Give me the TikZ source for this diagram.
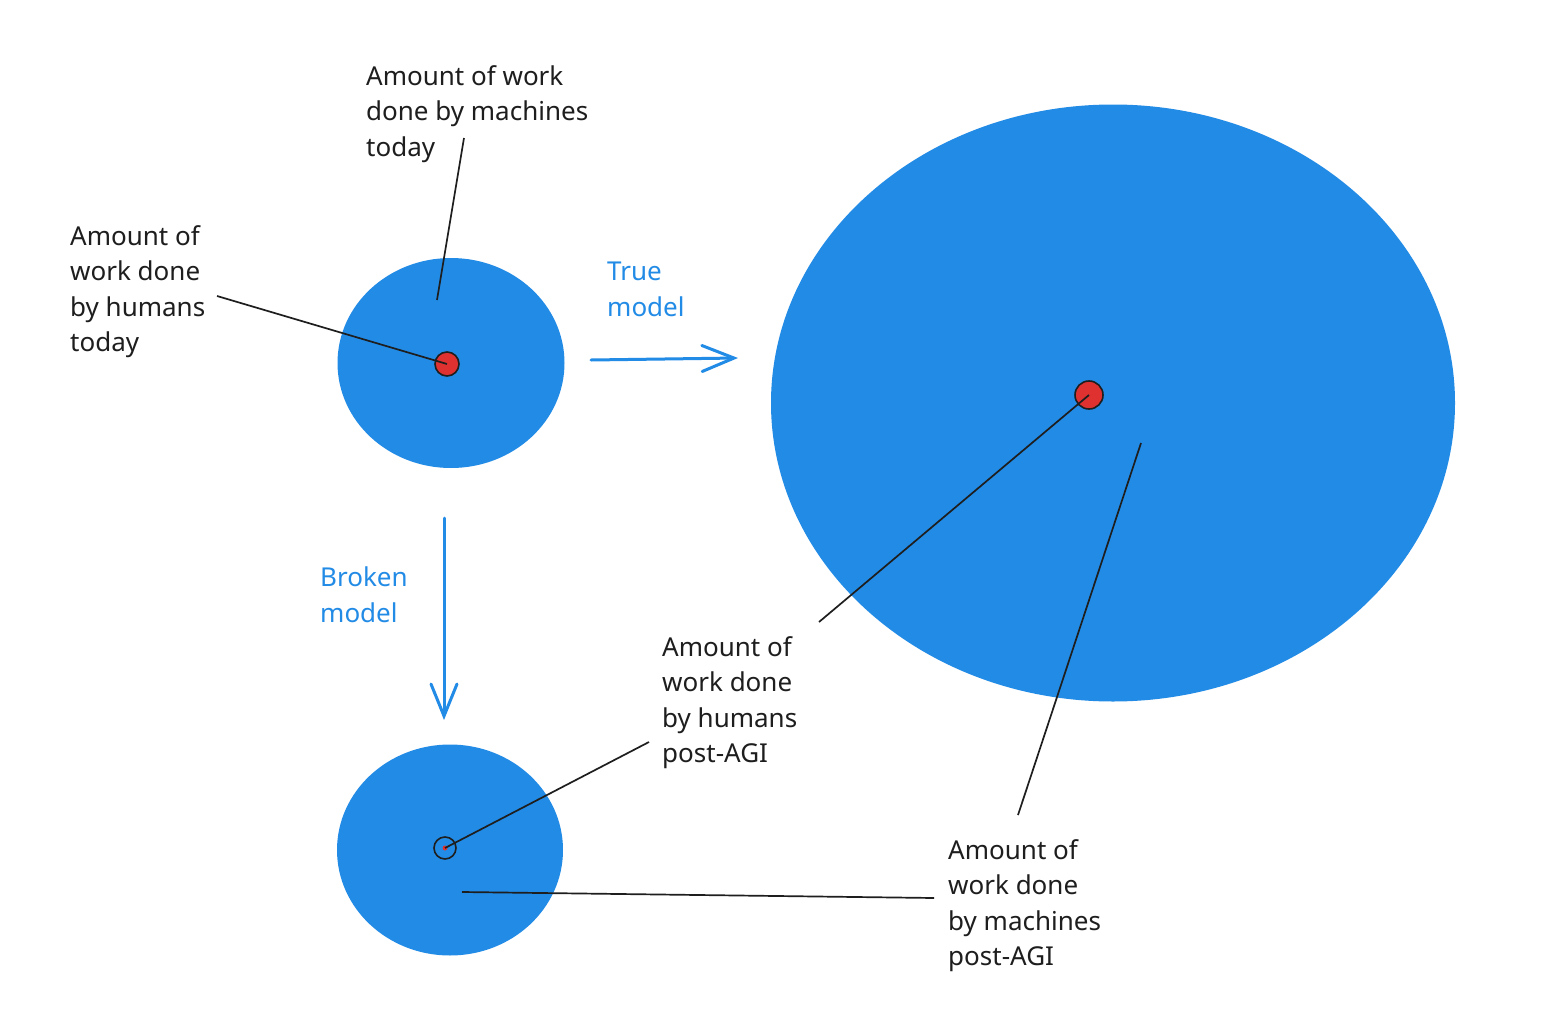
\documentclass[tikz,border=0pt]{standalone}
\usepackage{fontspec}
\setmainfont{Noto Sans}
\usetikzlibrary{arrows.meta,shapes.geometric}
\definecolor{oblue}{HTML}{228BE6}
\definecolor{ored}{HTML}{E03131}
\definecolor{ink}{HTML}{1E1E1E}
\begin{document}
\begin{tikzpicture}[x=1pt,y=-1pt,
  blob/.style={ellipse,fill=oblue,draw=none,inner sep=0pt},
  dot/.style={circle,fill=ored,draw=ink,line width=1.6pt,inner sep=0pt},
  ring/.style={circle,draw=ink,line width=1.6pt,inner sep=0pt},
  lbl/.style={font=\fontsize{26}{35.5}\selectfont,align=left,inner sep=0pt,text=ink,anchor=north west},
  blbl/.style={lbl,text=oblue},
  leader/.style={draw=ink,line width=1.7pt},
  flow/.style={draw=oblue,line width=3pt,line cap=round,-{Straight Barb[length=32pt,width=26pt,line cap=round]}}
]
\useasboundingbox (0,0) rectangle (1564,1036);
\fill[white] (0,0) rectangle (1564,1036);

% circles
\node[blob,minimum width=227pt,minimum height=210pt] (c1) at (451,363) {};
\node[blob,minimum width=684pt,minimum height=597pt] (c2) at (1113,403) {};
\node[blob,minimum width=226pt,minimum height=211pt] (c3) at (450,850) {};

\node[dot,minimum size=24pt] (r1) at (447,364) {};
\node[dot,minimum size=28pt] (r2) at (1089,395) {};
\node[ring,minimum size=22pt] (r3) at (445,848) {};
\node[circle,fill=ored,inner sep=0pt,minimum size=5pt] (r3d) at (445,848) {};

% labels
\node[lbl] (t1) at (366,65) {Amount of work\\done by machines\\today};
\node[lbl] (t2) at (70,225) {Amount of\\work done\\by humans\\today};
\node[blbl] (t3) at (607,262) {True\\model};
\node[blbl] (t4) at (320,567) {Broken\\model};
\node[lbl] (t5) at (662,636) {Amount of\\work done\\by humans\\post-AGI};
\node[lbl] (t6) at (948,839) {Amount of\\work done\\by machines\\post-AGI};

% leader end points
\coordinate (a1) at (464,138);
\coordinate (b1) at (437,300);
\coordinate (a2) at (217,296);
\coordinate (a5) at (649,742);
\coordinate (a5b) at (819,622);
\coordinate (a6) at (934,898);
\coordinate (b6) at (462,892);
\coordinate (a6b) at (1018,815);
\coordinate (b6b) at (1141,443);

\draw[leader] (a1) -- (b1);
\draw[leader] (a2) -- (r1.center);
\draw[leader] (a5) -- (r3.center);
\draw[leader] (a5b) -- (r2.center);
\draw[leader] (a6) -- (b6);
\draw[leader] (a6b) -- (b6b);

% arrows
\coordinate (f1) at (591,360);
\coordinate (f2) at (738,358);
\coordinate (g1) at (444,518);
\coordinate (g2) at (444,720);
\draw[flow] (f1) -- (f2);
\draw[flow] (g1) -- (g2);
\end{tikzpicture}
\end{document}
